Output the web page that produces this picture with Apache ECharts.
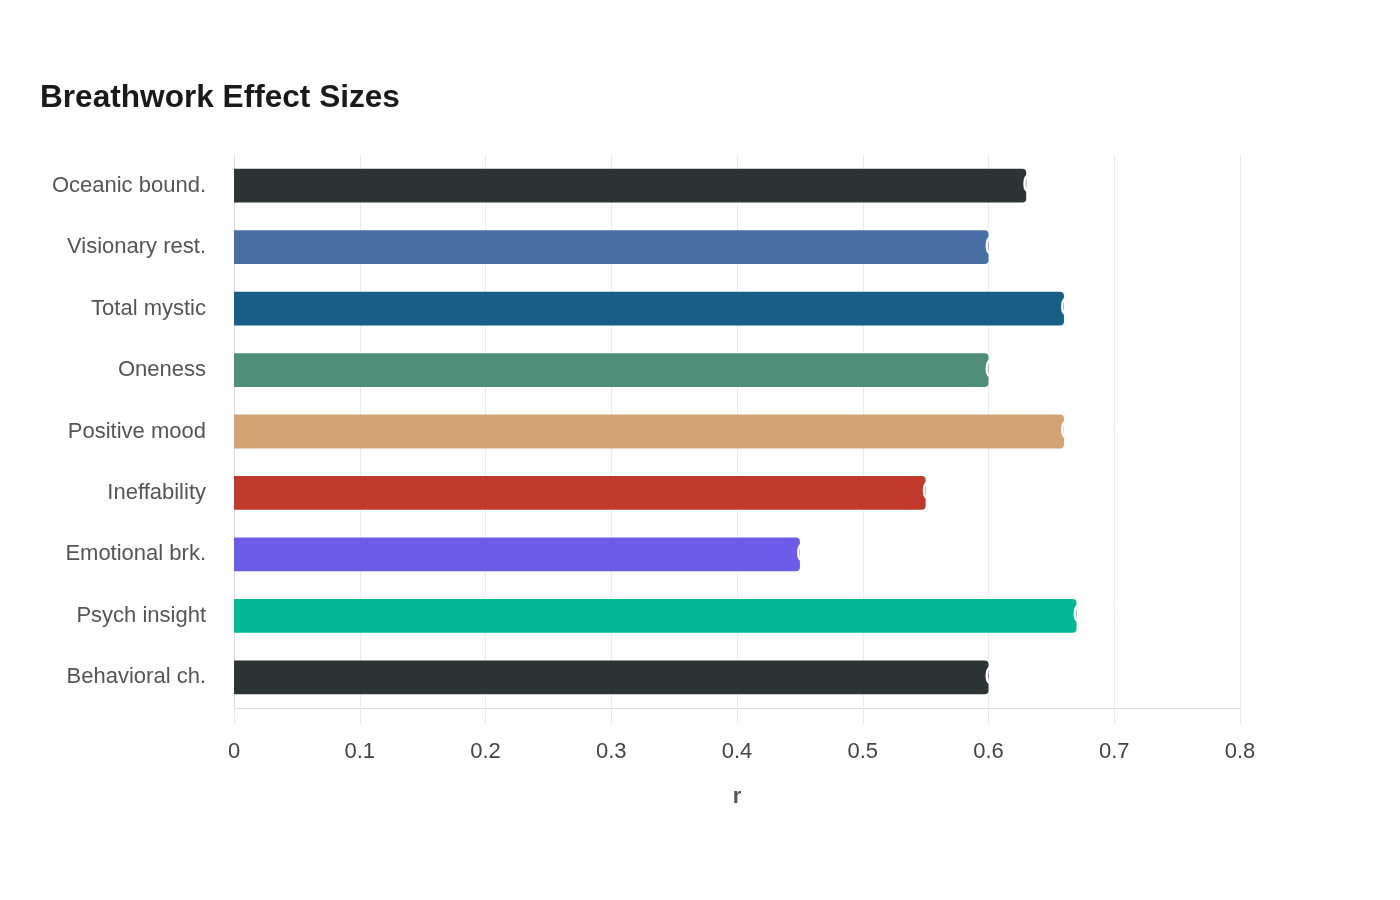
<!DOCTYPE html>
<html><head><meta charset="utf-8">
<script src="https://cdn.jsdelivr.net/npm/echarts@6/dist/echarts.min.js"></script>
<style>html,body{margin:0;padding:0;background:#fff}#c{width:1400px;height:900px}</style>
</head><body><div id="c"></div>
<script>
const categories = ["Oceanic bound.","Visionary rest.","Total mystic","Oneness","Positive mood","Ineffability","Emotional brk.","Psych insight","Behavioral ch."];
const values = [0.63,0.60,0.66,0.60,0.66,0.55,0.45,0.67,0.60];
const colors = ["#2d3436","#4a6fa5","#166088","#4f8f7a","#d4a373","#c0392b","#6c5ce7","#00b894","#2d3436"];
const xTicks = [0,0.1,0.2,0.3,0.4,0.5,0.6,0.7,0.8];

const chart = echarts.init(document.getElementById('c'));
chart.setOption({
  animation:false,
  title:{text:"Breathwork Effect Sizes",left:35,top:77,textStyle:{fontFamily:"Liberation Sans",fontSize:31.6,fontWeight:"bold",color:"#1a1a1a"}},
  grid:{left:234,right:160,top:155,bottom:192,containLabel:false},
  xAxis:{type:"value",min:0,max:0.8,interval:0.1,
    name:"r",nameLocation:"middle",nameGap:78,
    nameTextStyle:{fontFamily:"Liberation Sans",fontSize:22,fontWeight:"bold",color:"#555"},
    axisLine:{show:true,lineStyle:{color:"#dcdcdc"}},
    axisTick:{show:true,length:16,lineStyle:{color:"#e8e8e8"}},
    axisLabel:{fontFamily:"Liberation Sans",fontSize:22,color:"#444",margin:33,formatter:v=>String(+v.toFixed(1))},
    splitLine:{show:true,lineStyle:{color:"#ebebeb",width:1}}},
  yAxis:{type:"category",data:categories,inverse:true,
    axisLine:{show:true,lineStyle:{color:"#dcdcdc"}},
    axisTick:{show:false},
    axisLabel:{fontFamily:"Liberation Sans",fontSize:22,color:"#555",margin:28}},
  series:[{
    type:"bar",barWidth:"55%",
    data:values.map((v,i)=>({value:v,itemStyle:{color:colors[i],borderRadius:[0,4,4,0]}})),
    label:{show:true,position:"right",distance:0,offset:[-4,0],color:"#fff",
      fontFamily:"Liberation Sans",fontSize:27,formatter:p=>p.value.toFixed(2)},
    z:2
  }]
});
</script></body></html>
